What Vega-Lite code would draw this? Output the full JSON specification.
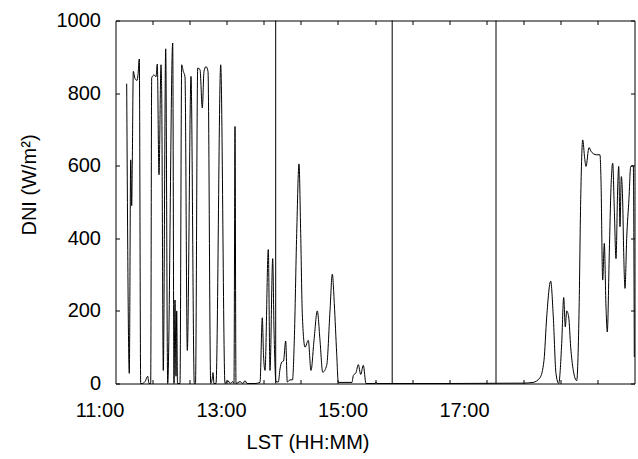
{
  "$schema": "https://vega.github.io/schema/vega-lite/v6.json",
  "width": 519,
  "height": 363,
  "autosize": {"type": "none"},
  "padding": {"left": 115.5, "top": 20.5, "right": 3.5, "bottom": 75.5},
  "background": "white",
  "config": {
    "view": {"stroke": "#000", "strokeWidth": 1},
    "font": "Liberation Sans",
    "axis": {
      "labelFont": "Liberation Sans",
      "titleFont": "Liberation Sans",
      "labelColor": "#000",
      "titleColor": "#000",
      "tickColor": "#000",
      "grid": false,
      "domain": false,
      "titleFontWeight": "normal",
      "labelFontSize": 20,
      "titleFontSize": 20,
      "labelFlush": false,
      "labelOverlap": false
    }
  },
  "datasets": {
    "dni": [
      {"t": 11.4477, "dni": 826},
      {"t": 11.4905, "dni": 28},
      {"t": 11.5136, "dni": 616},
      {"t": 11.5300, "dni": 490},
      {"t": 11.5399, "dni": 610},
      {"t": 11.5564, "dni": 860},
      {"t": 11.5844, "dni": 840},
      {"t": 11.6173, "dni": 835},
      {"t": 11.6337, "dni": 850},
      {"t": 11.6551, "dni": 894},
      {"t": 11.6782, "dni": 0},
      {"t": 11.6996, "dni": 0},
      {"t": 11.7490, "dni": 5},
      {"t": 11.7934, "dni": 20},
      {"t": 11.8148, "dni": 0},
      {"t": 11.8428, "dni": 0},
      {"t": 11.8593, "dni": 842},
      {"t": 11.8971, "dni": 850},
      {"t": 11.9300, "dni": 845},
      {"t": 11.9514, "dni": 880},
      {"t": 11.9794, "dni": 575},
      {"t": 12.0123, "dni": 878},
      {"t": 12.0239, "dni": 800},
      {"t": 12.0502, "dni": 36},
      {"t": 12.0897, "dni": 922},
      {"t": 12.1226, "dni": 0},
      {"t": 12.2049, "dni": 938},
      {"t": 12.2263, "dni": 0},
      {"t": 12.2428, "dni": 230},
      {"t": 12.2593, "dni": 20},
      {"t": 12.2708, "dni": 200},
      {"t": 12.2840, "dni": 0},
      {"t": 12.3251, "dni": 0},
      {"t": 12.3531, "dni": 878},
      {"t": 12.3794, "dni": 860},
      {"t": 12.4074, "dni": 845},
      {"t": 12.4453, "dni": 91},
      {"t": 12.5062, "dni": 846},
      {"t": 12.5605, "dni": 0},
      {"t": 12.5802, "dni": 0},
      {"t": 12.6165, "dni": 869},
      {"t": 12.6543, "dni": 865},
      {"t": 12.6922, "dni": 759},
      {"t": 12.7202, "dni": 860},
      {"t": 12.7531, "dni": 873},
      {"t": 12.7860, "dni": 860},
      {"t": 12.8305, "dni": 0},
      {"t": 12.8519, "dni": 10},
      {"t": 12.8683, "dni": 30},
      {"t": 12.8848, "dni": 0},
      {"t": 12.9177, "dni": 0},
      {"t": 12.9951, "dni": 878},
      {"t": 13.0658, "dni": 0},
      {"t": 13.1152, "dni": 8},
      {"t": 13.1481, "dni": 0},
      {"t": 13.1975, "dni": 5},
      {"t": 13.2140, "dni": 0},
      {"t": 13.2305, "dni": 708},
      {"t": 13.2469, "dni": 0},
      {"t": 13.3128, "dni": 5},
      {"t": 13.3621, "dni": 0},
      {"t": 13.3951, "dni": 8},
      {"t": 13.4280, "dni": 0},
      {"t": 13.5597, "dni": 0},
      {"t": 13.6420, "dni": 3},
      {"t": 13.6798, "dni": 181},
      {"t": 13.6996, "dni": 80},
      {"t": 13.7243, "dni": 36},
      {"t": 13.7786, "dni": 369},
      {"t": 13.8066, "dni": 36},
      {"t": 13.8510, "dni": 344},
      {"t": 13.8724, "dni": 150},
      {"t": 13.9053, "dni": 5},
      {"t": 13.9432, "dni": 4},
      {"t": 13.9712, "dni": 40},
      {"t": 13.9992, "dni": 59},
      {"t": 14.0288, "dni": 62},
      {"t": 14.0650, "dni": 117},
      {"t": 14.0914, "dni": 4},
      {"t": 14.1358, "dni": 10},
      {"t": 14.1770, "dni": 10},
      {"t": 14.2066, "dni": 119},
      {"t": 14.2461, "dni": 413},
      {"t": 14.2840, "dni": 605},
      {"t": 14.3119, "dni": 413},
      {"t": 14.3383, "dni": 192},
      {"t": 14.3827, "dni": 100},
      {"t": 14.4370, "dni": 119},
      {"t": 14.4815, "dni": 36},
      {"t": 14.5309, "dni": 119},
      {"t": 14.5852, "dni": 200},
      {"t": 14.6296, "dni": 119},
      {"t": 14.6741, "dni": 31},
      {"t": 14.7399, "dni": 50},
      {"t": 14.7942, "dni": 200},
      {"t": 14.8321, "dni": 301},
      {"t": 14.8650, "dni": 220},
      {"t": 14.9045, "dni": 82},
      {"t": 14.9309, "dni": 3},
      {"t": 15.1564, "dni": 3},
      {"t": 15.1778, "dni": 22},
      {"t": 15.2222, "dni": 30},
      {"t": 15.2601, "dni": 52},
      {"t": 15.2996, "dni": 25},
      {"t": 15.3424, "dni": 50},
      {"t": 15.3868, "dni": 0},
      {"t": 15.5350, "dni": 0},
      {"t": 15.5514, "dni": 4},
      {"t": 15.5679, "dni": 0},
      {"t": 16.7695, "dni": 0},
      {"t": 17.9761, "dni": 1},
      {"t": 18.1358, "dni": 3},
      {"t": 18.2510, "dni": 16},
      {"t": 18.3169, "dni": 64},
      {"t": 18.3613, "dni": 183},
      {"t": 18.4272, "dni": 282},
      {"t": 18.4700, "dni": 183},
      {"t": 18.5144, "dni": 27},
      {"t": 18.5588, "dni": 0},
      {"t": 18.6082, "dni": 110},
      {"t": 18.6412, "dni": 237},
      {"t": 18.6675, "dni": 156},
      {"t": 18.6905, "dni": 200},
      {"t": 18.7235, "dni": 183},
      {"t": 18.7564, "dni": 100},
      {"t": 18.7992, "dni": 36},
      {"t": 18.8551, "dni": 8},
      {"t": 18.8930, "dni": 190},
      {"t": 18.9210, "dni": 506},
      {"t": 18.9539, "dni": 671},
      {"t": 18.9868, "dni": 620},
      {"t": 19.0082, "dni": 598},
      {"t": 19.0576, "dni": 650},
      {"t": 19.0905, "dni": 640},
      {"t": 19.1284, "dni": 633},
      {"t": 19.1844, "dni": 630},
      {"t": 19.2387, "dni": 630},
      {"t": 19.2551, "dni": 560},
      {"t": 19.2831, "dni": 285},
      {"t": 19.3095, "dni": 386},
      {"t": 19.3374, "dni": 211},
      {"t": 19.3588, "dni": 142},
      {"t": 19.3918, "dni": 360},
      {"t": 19.4198, "dni": 540},
      {"t": 19.4477, "dni": 607},
      {"t": 19.4741, "dni": 480},
      {"t": 19.5021, "dni": 344},
      {"t": 19.5300, "dni": 540},
      {"t": 19.5465, "dni": 598},
      {"t": 19.5679, "dni": 432},
      {"t": 19.5893, "dni": 570},
      {"t": 19.6123, "dni": 500},
      {"t": 19.6288, "dni": 360},
      {"t": 19.6502, "dni": 262},
      {"t": 19.6782, "dni": 400},
      {"t": 19.7160, "dni": 510},
      {"t": 19.7440, "dni": 598},
      {"t": 19.7868, "dni": 600},
      {"t": 19.8033, "dni": 73}
    ],
    "markers": [
      {"t": 13.9004},
      {"t": 15.818},
      {"t": 17.527}
    ]
  },
  "layer": [
    {
      "data": {"name": "dni"},
      "mark": {"type": "line", "color": "#000", "strokeWidth": 1, "interpolate": "monotone"},
      "encoding": {
        "x": {
          "field": "t",
          "type": "quantitative",
          "scale": {"domain": [11.2634, 19.8066], "nice": false, "zero": false},
          "axis": {
            "orient": "bottom",
            "values": [11.27, 13.27, 15.27, 17.27],
            "labelExpr": "floor(datum.value) + ':00'",
            "labelOffset": -16.4,
            "ticks": false,
            "labelPadding": 17,
            "title": "LST (HH:MM)",
            "titleX": 192,
            "titleY": 65,
            "titleAlign": "center",
            "titleBaseline": "alphabetic"
          }
        },
        "y": {
          "field": "dni",
          "type": "quantitative",
          "scale": {"domain": [0, 1000], "nice": false},
          "axis": {
            "orient": "left",
            "values": [0, 200, 400, 600, 800, 1000],
            "format": "d",
            "tickSize": -4,
            "labelPadding": 19,
            "title": "DNI (W/m²)",
            "titleX": -80.5,
            "titleY": 164,
            "titleAngle": -90,
            "titleAlign": "center",
            "titleBaseline": "alphabetic"
          }
        }
      }
    },
    {
      "data": {"name": "markers"},
      "mark": {"type": "rule", "color": "#000", "strokeWidth": 1},
      "encoding": {
        "x": {
          "field": "t",
          "type": "quantitative",
          "axis": {
            "orient": "top",
            "values": [11.8736, 12.4839, 13.0941, 13.7043, 14.3146, 14.9248, 15.5350, 16.1452, 16.7555, 17.3657, 17.9759, 18.5862, 19.1964],
            "labels": false,
            "tickSize": -4,
            "title": null
          }
        }
      }
    },
    {
      "data": {"name": "dni"},
      "mark": {"type": "line", "opacity": 0},
      "encoding": {
        "x": {
          "field": "t",
          "type": "quantitative",
          "axis": {
            "orient": "bottom",
            "values": [11.8736, 12.4839, 13.0941, 13.7043, 14.3146, 14.9248, 15.5350, 16.1452, 16.7555, 17.3657, 17.9759, 18.5862, 19.1964],
            "labels": false,
            "tickSize": -4,
            "title": null
          }
        },
        "y": {
          "field": "dni",
          "type": "quantitative",
          "axis": {
            "orient": "right",
            "values": [0, 200, 400, 600, 800, 1000],
            "labels": false,
            "tickSize": -4,
            "title": null
          }
        }
      }
    }
  ],
  "resolve": {"axis": {"x": "independent", "y": "independent"}}
}
